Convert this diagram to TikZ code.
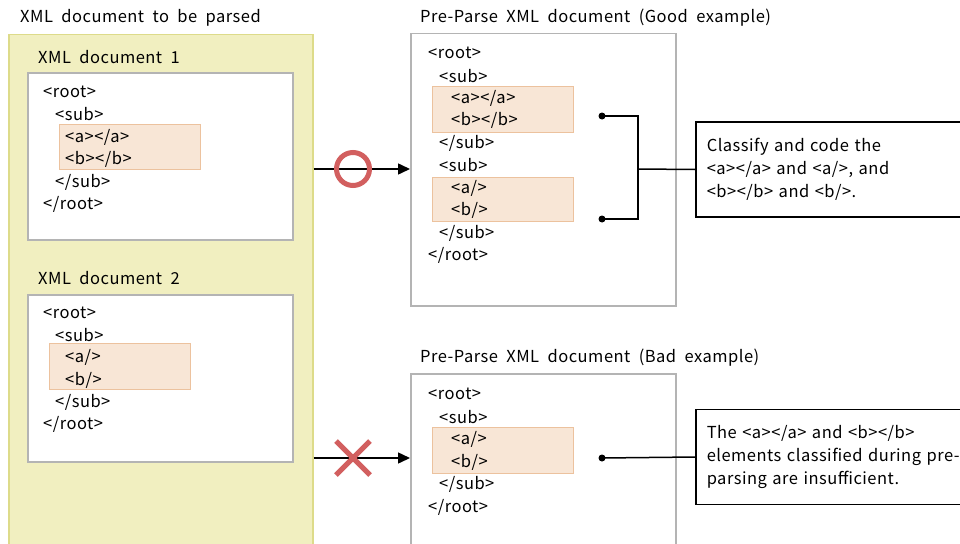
\documentclass[tikz,border=0pt]{standalone}
\usepackage{fontspec}
\setmainfont{Noto Sans CJK JP}[WordSpace=2.0,LetterSpace=3]
\usetikzlibrary{arrows.meta}
\definecolor{yelfill}{HTML}{F1EFC0}
\definecolor{yelline}{HTML}{DDDB8A}
\definecolor{hlfill}{HTML}{F8E6D6}
\definecolor{hlline}{HTML}{ECC29E}
\definecolor{docline}{HTML}{B4B4B4}
\definecolor{mark}{HTML}{D25F5F}
\tikzset{
  outerbox/.style={fill=yelfill,draw=yelline,line width=1.5pt,anchor=north west,inner sep=0pt},
  docbox/.style={fill=white,draw=docline,line width=1.5pt,anchor=north west,inner sep=0pt},
  hlbox/.style={fill=hlfill,draw=hlline,line width=1.2pt,anchor=north west,inner sep=0pt},
  code/.style={anchor=west,inner sep=0pt,font=\fontsize{16.5}{22}\selectfont},
  title/.style={anchor=west,inner sep=0pt,font=\fontsize{16.5}{22}\selectfont},
  combox/.style={draw=black,line width=1.5pt,fill=white,anchor=west,align=left,text width=300pt,inner xsep=11pt,minimum height=95pt,font=\fontsize{16.5}{22.7}\selectfont},
  conn/.style={line width=1.5pt,black},
  arr/.style={conn,-{Triangle[length=12pt,width=11pt]}},
  dotc/.style={circle,fill=black,inner sep=0pt,minimum size=7pt},
  okmark/.style={circle,draw=mark,line width=5pt,minimum size=33pt,inner sep=0pt},
  ngline/.style={draw=mark,line width=5pt}
}
\begin{document}
\begin{tikzpicture}[x=1pt,y=-1pt]
\clip (0,0) rectangle (960,543);
\fill[white] (0,0) rectangle (960,543);
% left side
\node[title] (tleft) at (20,18) {XML document to be parsed};
\node[outerbox,minimum width=304pt,minimum height=530pt] (outer) at (8,34) {};
\node[title] (t1) at (38,57) {XML document 1};
\node[docbox,minimum width=265pt,minimum height=167pt] (doc1) at (27,72) {};
\node[hlbox,minimum width=141pt,minimum height=45pt] (hl1) at (59,124) {};
\node[code] (d1a) at (43,92) {<root>};
\node[code] (d1b) at (55,114) {<sub>};
\node[code] (d1c) at (65,137) {<a></a>};
\node[code] (d1d) at (65,159) {<b></b>};
\node[code] (d1e) at (55,182) {</sub>};
\node[code] (d1f) at (43,204) {</root>};
\node[title] (t2) at (38,278) {XML document 2};
\node[docbox,minimum width=265pt,minimum height=167pt] (doc2) at (27,294) {};
\node[hlbox,minimum width=141pt,minimum height=46pt] (hl2) at (49,343) {};
\node[code] (d2a) at (43,313) {<root>};
\node[code] (d2b) at (55,335) {<sub>};
\node[code] (d2c) at (65,357) {<a/>};
\node[code] (d2d) at (65,380) {<b/>};
\node[code] (d2e) at (55,402) {</sub>};
\node[code] (d2f) at (43,424) {</root>};
% good example
\node[title] (tgood) at (420,18) {Pre-Parse XML document (Good example)};
\node[docbox,minimum width=265pt,minimum height=272pt] (good) at (410,33) {};
\node[hlbox,minimum width=141pt,minimum height=46pt] (hlg1) at (432,86) {};
\node[hlbox,minimum width=141pt,minimum height=44pt] (hlg2) at (432,177) {};
\node[code] (g1) at (428,53) {<root>};
\node[code] (g2) at (439,76) {<sub>};
\node[code] (g3) at (451,98) {<a></a>};
\node[code] (g4) at (451,120) {<b></b>};
\node[code] (g5) at (439,143) {</sub>};
\node[code] (g6) at (439,165) {<sub>};
\node[code] (g7) at (451,188) {<a/>};
\node[code] (g8) at (451,210) {<b/>};
\node[code] (g9) at (439,233) {</sub>};
\node[code] (g10) at (428,255) {</root>};
% bad example
\node[title] (tbad) at (420,358) {Pre-Parse XML document (Bad example)};
\node[docbox,minimum width=265pt,minimum height=172pt] (bad) at (410,373) {};
\node[hlbox,minimum width=141pt,minimum height=46pt] (hlb) at (432,427) {};
\node[code] (b1) at (428,394) {<root>};
\node[code] (b2) at (439,417) {<sub>};
\node[code] (b3) at (451,439) {<a/>};
\node[code] (b4) at (451,462) {<b/>};
\node[code] (b5) at (439,484) {</sub>};
\node[code] (b6) at (428,507) {</root>};
% arrows
\coordinate (ya) at (0,169);
\coordinate (yb) at (0,458);
\draw[arr] (outer.east |- ya) -- (good.west |- ya);
\draw[arr] (outer.east |- yb) -- (bad.west |- yb);
\node[okmark] (ok) at (353,169) {};
\coordinate (ngc) at (353,458);
\draw[ngline] ([shift={(-17,-17)}]ngc) -- ([shift={(17,17)}]ngc);
\draw[ngline] ([shift={(-17,17)}]ngc) -- ([shift={(17,-17)}]ngc);
% comments
\node[combox] (cgood) at (695,169.5) {Classify and code the\\<a></a> and <a/>, and\\<b></b> and <b/>.};
\node[combox] (cbad) at (695,457) {The <a></a> and <b></b>\\elements classified during pre-\\parsing are insufficient.};
\node[dotc] (p1) at (602,116) {};
\node[dotc] (p2) at (602,219) {};
\node[dotc] (p3) at (602,458) {};
\coordinate (br) at (638,169);
\draw[conn] (p1.center) -| (br) |- (p2.center);
\draw[conn] (br) -- (cgood.west);
\draw[conn] (p3.center) -- (cbad.west);
\end{tikzpicture}
\end{document}
